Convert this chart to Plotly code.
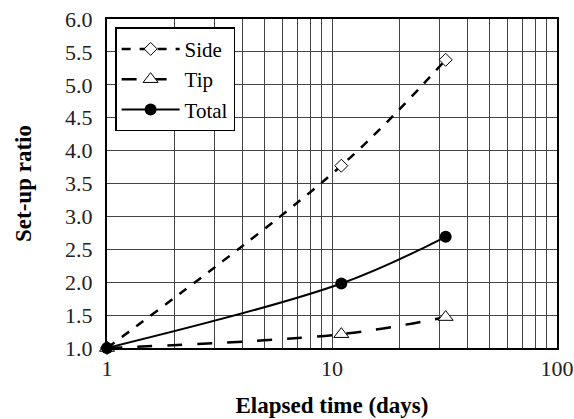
import plotly.graph_objects as go

days = [1, 11, 32]
side = [1.0, 3.77, 5.38]
tip = [1.0, 1.21, 1.47]
total = [1.0, 1.98, 2.69]
y_ticks = [1.0, 1.5, 2.0, 2.5, 3.0, 3.5, 4.0, 4.5, 5.0, 5.5, 6.0]
x_ticks = [1, 10, 100]

FONT = "Liberation Serif"

fig = go.Figure()
fig.add_trace(go.Scatter(
    x=days, y=side, name="Side", mode="lines+markers",
    line=dict(color="black", width=2.5, dash="dash", shape="spline"),
    marker=dict(symbol="diamond", size=10, color="white", line=dict(width=1, color="black")),
    cliponaxis=False))
fig.add_trace(go.Scatter(
    x=days, y=tip, name="Tip", mode="lines+markers",
    line=dict(color="black", width=2.5, dash="longdash", shape="spline"),
    marker=dict(symbol="triangle-up", size=13, color="white", line=dict(width=1, color="black")),
    cliponaxis=False))
fig.add_trace(go.Scatter(
    x=days, y=total, name="Total", mode="lines+markers",
    line=dict(color="black", width=2, shape="spline"),
    marker=dict(symbol="circle", size=12, color="black"),
    cliponaxis=False))

minor_vals = [v * d for d in (1, 10) for v in range(2, 10)]

fig.update_layout(
    width=574, height=419,
    margin=dict(l=107, r=17, t=19, b=71),
    paper_bgcolor="white", plot_bgcolor="white",
    font=dict(family=FONT, size=22, color="#222"),
    showlegend=True,
    legend=dict(x=0.018, y=0.975, xanchor="left", yanchor="top",
                bgcolor="white", bordercolor="black", borderwidth=1.5,
                font=dict(family=FONT, size=21, color="black"), tracegroupgap=0,
                itemwidth=58),
    xaxis=dict(
        type="log", range=[0, 2], automargin=False,
        tickvals=x_ticks, ticktext=[str(v) for v in x_ticks],
        tickfont=dict(family=FONT, size=22),
        showgrid=True, gridcolor="#444", gridwidth=1,
        minor=dict(tickvals=minor_vals, showgrid=True, gridcolor="#444", gridwidth=1, ticks=""),
        showline=True, linecolor="black", linewidth=2, mirror=True,
        ticks="", zeroline=False, ticklabelstandoff=0,
        title=dict(text="<b>Elapsed time (days)</b>", font=dict(family=FONT, size=23, color="black"), standoff=16),
    ),
    yaxis=dict(
        range=[1, 6], automargin=False,
        tickvals=y_ticks, ticktext=[f"{v:.1f}" for v in y_ticks],
        tickfont=dict(family=FONT, size=22),
        showgrid=True, gridcolor="#444", gridwidth=1,
        showline=True, linecolor="black", linewidth=2, mirror=True,
        ticks="outside", ticklen=8, tickcolor="rgba(0,0,0,0)", zeroline=False,
        title=dict(text="<b>Set-up ratio</b>", font=dict(family=FONT, size=23, color="black"), standoff=27),
    ),
)

fig.write_html("out.html")
